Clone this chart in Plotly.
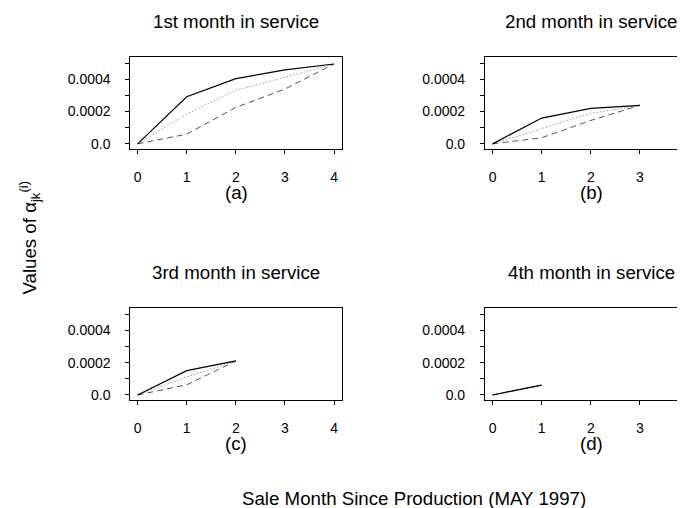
import plotly.graph_objects as go

months = [0, 1, 2, 3, 4]

a_solid = [0, 0.000292, 0.000404, 0.000458, 0.000495]
a_dotted = [0, 0.000185, 0.000332, 0.000415, 0.000495]
a_dashed = [0, 0.000060, 0.000226, 0.000340, 0.000495]

b_solid = [0, 0.000160, 0.000220, 0.000239]
b_dotted = [0, 0.000094, 0.000189, 0.000239]
b_dashed = [0, 0.000038, 0.000145, 0.000239]

c_solid = [0, 0.000151, 0.000211]
c_dotted = [0, 0.000111, 0.000211]
c_dashed = [0, 0.000063, 0.000211]

d_solid = [0, 0.0000615]
d_dotted = [0, 0.0000615]
d_dashed = [0, 0.0000615]

titles = ["1st month in service", "2nd month in service", "3rd month in service", "4th month in service"]
panel_labels = ["(a)", "(b)", "(c)", "(d)"]
ytick_vals = [0, 0.0001, 0.0002, 0.0003, 0.0004, 0.0005]
ytick_text = ["0.0", "", "0.0002", "", "0.0004", ""]
xtick_vals = [0, 1, 2, 3, 4]

W, H = 685, 508
FONT = "Liberation Sans, Arial, sans-serif"
BIG = 18.7
TICK = 14

panels = [
    (a_solid, a_dotted, a_dashed),
    (b_solid, b_dotted, b_dashed),
    (c_solid, c_dotted, c_dashed),
    (d_solid, d_dotted, d_dashed),
]

box_left = [122.7, 478.3]
box_right = [335.0, 692.0]
box_top = [49.0, 301.7]
box_bottom = [141.7, 394.3]

xdoms = [[box_left[0] / W, box_right[0] / W], [box_left[1] / W, 1.0]]
ydoms = [[1 - box_bottom[0] / H, 1 - box_top[0] / H], [1 - box_bottom[1] / H, 1 - box_top[1] / H]]
xranges = [[-0.148, 4.162], [-0.156, 4.04]]
yrange = [-0.000031, 0.00054]

fig = go.Figure()
layout = {}
annotations = []
for i, (s, dt, ds) in enumerate(panels):
    col = i % 2
    row = i // 2
    n = i + 1
    xa = "x" if n == 1 else f"x{n}"
    ya = "y" if n == 1 else f"y{n}"
    xs = months[:len(s)]
    fig.add_trace(go.Scatter(x=xs, y=ds, mode="lines", xaxis=xa, yaxis=ya,
                             line=dict(color="#555555", width=1, dash="6px,4px"), showlegend=False))
    fig.add_trace(go.Scatter(x=xs, y=dt, mode="lines", xaxis=xa, yaxis=ya,
                             line=dict(color="#999999", width=1, dash="1.5px,2px"), showlegend=False))
    fig.add_trace(go.Scatter(x=xs, y=s, mode="lines", xaxis=xa, yaxis=ya,
                             line=dict(color="#000000", width=1.2), showlegend=False))
    xkey = "xaxis" if n == 1 else f"xaxis{n}"
    ykey = "yaxis" if n == 1 else f"yaxis{n}"
    layout[xkey] = dict(domain=xdoms[col], range=xranges[col], anchor=ya,
                        tickvals=xtick_vals, ticks="outside", ticklen=4, tickcolor="black",
                        showline=True, linecolor="black", linewidth=1, mirror=True,
                        showgrid=False, zeroline=False, ticklabelstandoff=11,
                        ticklabeloverflow="allow",
                        tickfont=dict(family=FONT, size=TICK, color="black"))
    layout[ykey] = dict(domain=ydoms[row], range=yrange, anchor=xa,
                        tickvals=ytick_vals, ticktext=ytick_text, ticks="outside", ticklen=4,
                        tickcolor="black", showline=True, linecolor="black", linewidth=1,
                        mirror=(col == 0), showgrid=False, zeroline=False,
                        ticklabelstandoff=12,
                        tickfont=dict(family=FONT, size=TICK, color="black"))
    xc = (box_left[col] + box_right[col]) / 2 / W
    ty = 1 - (box_top[row] - 35.5) / H
    ly = 1 - (box_bottom[row] + 44) / H
    annotations.append(dict(text=titles[i], x=xc, y=ty, xref="paper", yref="paper",
                            showarrow=False, xanchor="center", yanchor="middle",
                            font=dict(family=FONT, size=BIG, color="black")))
    annotations.append(dict(text=panel_labels[i], x=xc, y=ly, xref="paper", yref="paper",
                            showarrow=False, xanchor="center", yanchor="middle",
                            font=dict(family=FONT, size=BIG, color="black")))

annotations.append(dict(text="Sale Month Since Production (MAY 1997)",
                        x=(box_left[0] + box_right[1]) / 2 / W, y=1 - 493 / H,
                        xref="paper", yref="paper", showarrow=False, xanchor="center",
                        yanchor="middle", font=dict(family=FONT, size=BIG, color="black")))
annotations.append(dict(text="Values of α<sub>jk</sub><sup>(i)</sup>", x=22 / W, y=1 - 231 / H,
                        xref="paper", yref="paper", showarrow=False, xanchor="center",
                        yanchor="middle", textangle=-90,
                        font=dict(family=FONT, size=BIG, color="black")))

fig.update_layout(width=W, height=H, margin=dict(l=0, r=0, t=0, b=0),
                  paper_bgcolor="white", plot_bgcolor="white",
                  annotations=annotations, **layout)
fig.write_html("out.html")
